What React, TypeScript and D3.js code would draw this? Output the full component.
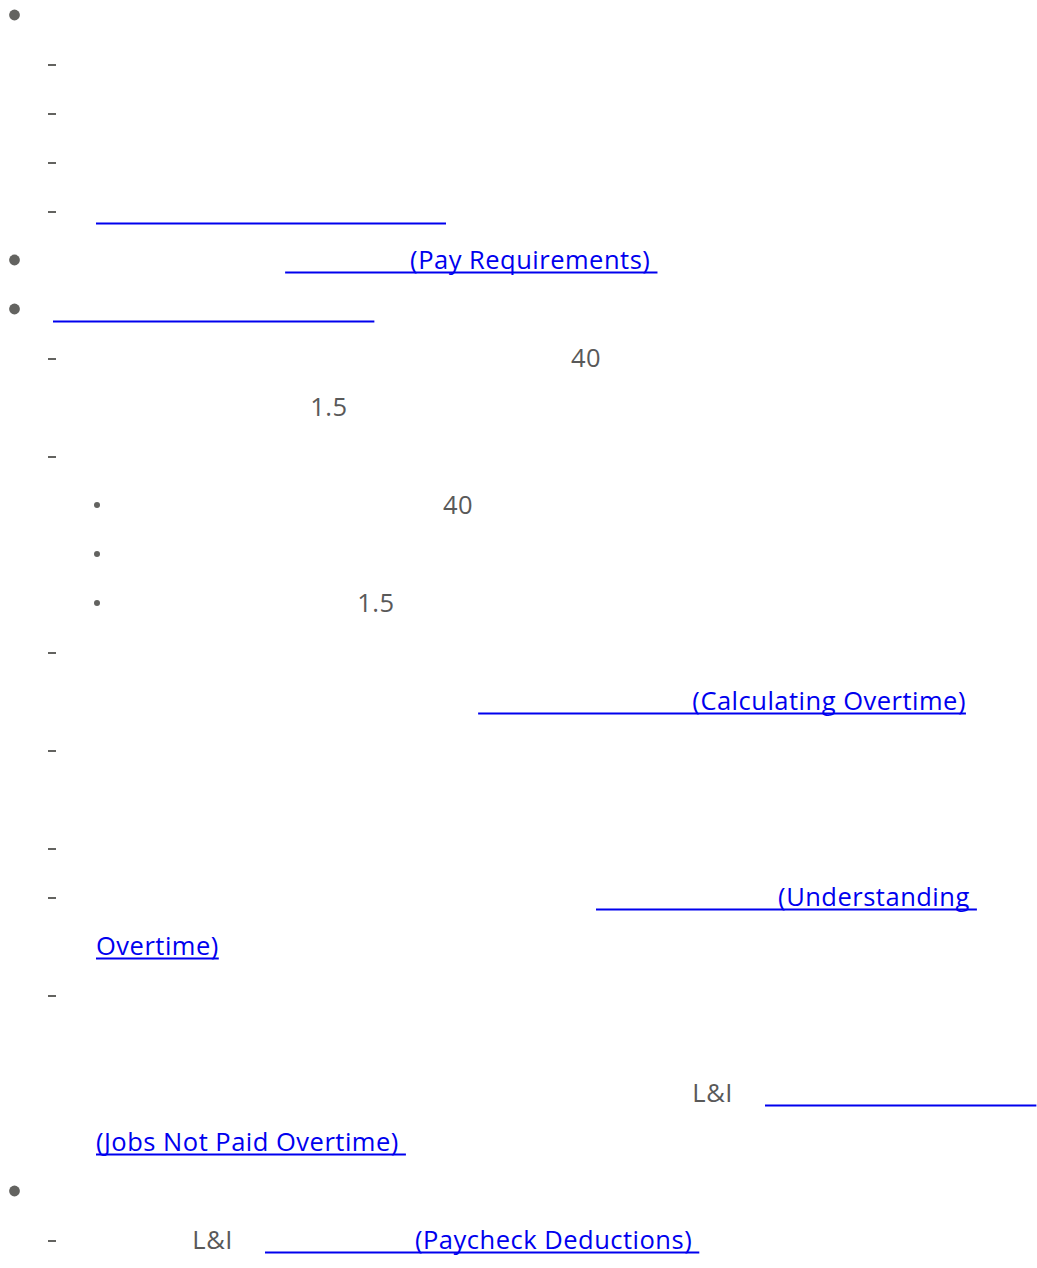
import * as React from "react";
import * as d3 from "d3";

type Part = { text: string; link?: boolean };

// glyphs the source page had no font for: they took up width but drew nothing
const K = (n: number) => "\u3000".repeat(n);

const ROW_LEVELS = [0, 1, 1, 1, 1, 0, 0, 1, 1, 1, 2, 2, 2, 1, 1, 1, 1, 1, 1, 1, 1, 1, 1, 1, 0, 1];
const ROW_MARKED = [1, 1, 1, 1, 1, 1, 1, 1, 0, 1, 1, 1, 1, 1, 0, 1, 0, 1, 1, 0, 1, 0, 0, 0, 1, 1];

const ROW_PARTS: Part[][] = [
  [{ text: K(14) }],
  [{ text: K(18) }],
  [{ text: K(16) }],
  [{ text: K(20) }],
  [{ text: K(14), link: true }],
  [{ text: K(9) + " " }, { text: K(5) + "(Pay Requirements) ", link: true }],
  [{ text: K(12) + "   ", link: true }],
  [{ text: K(19) }, { text: "40" }, { text: K(16) }],
  [{ text: K(8) + "  " }, { text: "1.5" }, { text: K(10) }],
  [{ text: K(17) }],
  [{ text: K(12) }, { text: "40" }, { text: K(6) }],
  [{ text: K(10) }],
  [{ text: K(8) + "  " }, { text: "1.5" }, { text: K(4) }],
  [{ text: K(34) }],
  [{ text: K(15) + " " }, { text: K(8) + "  (Calculating Overtime)", link: true }],
  [{ text: K(36) }],
  [{ text: K(20) }],
  [{ text: K(24) }],
  [{ text: K(20) }, { text: K(7) + " (Understanding ", link: true }],
  [{ text: "Overtime)", link: true }],
  [{ text: K(36) }],
  [{ text: K(34) }],
  [{ text: K(23) + "   " }, { text: "L&I" }, { text: K(1) + " " }, { text: K(10) + "   ", link: true }],
  [{ text: "(Jobs Not Paid Overtime) ", link: true }],
  [{ text: K(15) }],
  [{ text: K(3) + "   " }, { text: "L&I" }, { text: K(1) + " " }, { text: K(6) + "(Paycheck Deductions) ", link: true }],
];

const HIDDEN_SIZE = 25;
const FONT_SIZE = 25.5;
const LETTER_SPACING = 0.5;
const FONT_FAMILY = "'Open Sans', 'Noto Sans', sans-serif";
const TEXT_COLOR = "#595959";
const MARKER_COLOR = "#636360";
const LINK_COLOR = "#0000ee";

export default function App() {
  const width = 1037;
  const height = 1268;

  const measure = React.useMemo(() => {
    const ctx = document.createElement("canvas").getContext("2d");
    return (s: string, hidden: boolean) => {
      const size = hidden ? HIDDEN_SIZE : FONT_SIZE;
      if (!ctx) return s.length * size * 0.55;
      ctx.font = `${size}px ${FONT_FAMILY}`;
      return ctx.measureText(s).width + (hidden ? 0 : LETTER_SPACING * s.length);
    };
  }, []);

  const rowY = d3.scaleLinear().domain([0, ROW_LEVELS.length - 1]).range([15, 1240]);
  const textX = d3.scaleOrdinal<number, number>().domain([0, 1, 2]).range([53, 96, 143]);

  const rows = ROW_PARTS.map((parts, i) => {
    let x = textX(ROW_LEVELS[i]);
    const laid = parts.map((p) => {
      const start = x;
      const runs = p.text
        .split(/(\u3000+)/)
        .filter((s) => s.length > 0)
        .map((s) => {
          const hidden = /^\u3000+$/.test(s);
          const w = measure(s, hidden);
          const run = { s, hidden, x, w };
          x += w;
          return run;
        });
      return { link: p.link, x: start, w: x - start, runs };
    });
    return { y: rowY(i), level: ROW_LEVELS[i], marked: ROW_MARKED[i] === 1, parts: laid };
  });

  return (
    <svg
      width={width}
      height={height}
      style={{ position: "absolute", left: 0, top: 0, background: "#fff" }}
      fontFamily={FONT_FAMILY}
    >
      {rows.map((row, i) => (
        <g key={i}>
          {row.marked && row.level === 0 && (
            <circle cx={14.5} cy={row.y} r={5.4} fill={MARKER_COLOR} />
          )}
          {row.marked && row.level === 1 && (
            <rect x={48} y={row.y} width={8} height={2} fill={MARKER_COLOR} />
          )}
          {row.marked && row.level === 2 && (
            <circle cx={97} cy={row.y} r={3} fill={MARKER_COLOR} />
          )}
          {row.parts.map((p, j) => (
            <g key={j}>
              {p.runs.map((r, k) => (
                <text
                  key={k}
                  x={r.x}
                  y={row.y + 8.5}
                  fontSize={r.hidden ? HIDDEN_SIZE : FONT_SIZE}
                  letterSpacing={r.hidden ? 0 : LETTER_SPACING}
                  fill={p.link ? LINK_COLOR : TEXT_COLOR}
                  style={{ whiteSpace: "pre" }}
                >
                  {r.s}
                </text>
              ))}
              {p.link && (
                <line
                  x1={p.x}
                  x2={p.x + p.w}
                  y1={row.y + 12.5}
                  y2={row.y + 12.5}
                  stroke={LINK_COLOR}
                  strokeWidth={2}
                />
              )}
            </g>
          ))}
        </g>
      ))}
    </svg>
  );
}
